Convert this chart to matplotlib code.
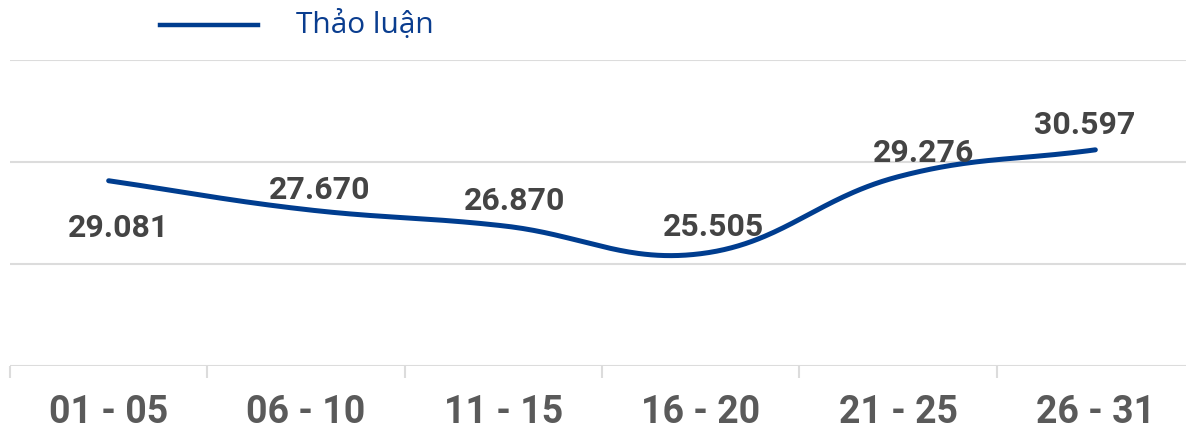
import numpy as np
import matplotlib
matplotlib.use('Agg')
import matplotlib.pyplot as plt

categories = ['01 - 05', '06 - 10', '11 - 15', '16 - 20', '21 - 25', '26 - 31']
values = [29081, 27670, 26870, 25505, 29276, 30597]
labels = ['29.081', '27.670', '26.870', '25.505', '29.276', '30.597']
series_name = 'Thảo luận'

# label offsets in pixels (dx, dy)
offsets = [(10, -47), (14, 20), (11, 25), (13, 27), (26, 24), (-11, 25)]

W, H = 1186, 429
fig = plt.figure(figsize=(W / 100, H / 100), dpi=100)
ax = fig.add_axes([10 / W, (H - 366) / H, 1184 / W, 306 / H])
ax.set_xlim(-0.5, len(categories) - 0.5)
ax.set_ylim(20000, 35000)

line_color = '#003d8f'
grid_color = '#dcdcdc'

for y in [20000, 25000, 30000, 35000]:
    ax.axhline(y, color=grid_color, lw=1.5, zorder=1)

# smooth curve (Chart.js-like tension spline) in display space
x = np.arange(len(values))
pts = ax.transData.transform(np.column_stack([x, values]))
t = 0.4
n = len(pts)
cp_prev = pts.copy()
cp_next = pts.copy()
for i in range(n):
    p0 = pts[max(i - 1, 0)]
    p1 = pts[i]
    p2 = pts[min(i + 1, n - 1)]
    d01 = np.hypot(*(p1 - p0))
    d12 = np.hypot(*(p2 - p1))
    tot = d01 + d12
    if tot == 0:
        continue
    fa = t * d01 / tot
    fb = t * d12 / tot
    cp_prev[i] = p1 - fa * (p2 - p0)
    cp_next[i] = p1 + fb * (p2 - p0)
curve = []
s = np.linspace(0, 1, 60)[:, None]
for i in range(n - 1):
    a, b, c, d = pts[i], cp_next[i], cp_prev[i + 1], pts[i + 1]
    seg = (1 - s) ** 3 * a + 3 * (1 - s) ** 2 * s * b + 3 * (1 - s) * s ** 2 * c + s ** 3 * d
    curve.append(seg)
curve = ax.transData.inverted().transform(np.vstack(curve))
ax.plot(curve[:, 0], curve[:, 1], color=line_color, lw=3.6,
        solid_capstyle='round', zorder=3)

for i, (v, lab) in enumerate(zip(values, labels)):
    dx, dy = offsets[i]
    ax.annotate(lab, (i, v), xytext=(dx, dy), textcoords='offset pixels',
                ha='center', va='center', fontsize=23, fontweight='bold',
                family='Roboto', color='#444444', zorder=4)

ax.set_xticks(x)
ax.set_xticklabels(categories, fontsize=27, fontweight='bold', family='Roboto',
                   color='#5a5a5a')
ax.set_xticks(np.arange(len(categories) + 1) - 0.5, minor=True)
ax.tick_params(axis='x', which='major', length=0, pad=20)
ax.tick_params(axis='x', which='minor', length=8.6, width=1.5, color=grid_color)
ax.set_yticks([])
for sp in ax.spines.values():
    sp.set_visible(False)

# legend
fig.lines.append(plt.Line2D([160 / W, 258 / W], [1 - 25 / H, 1 - 25 / H],
                            color=line_color, lw=3.2, transform=fig.transFigure))
fig.text(296 / W, 1 - 25 / H, series_name, fontsize=21.5, family='Open Sans',
         color='#0a3d8f', va='center', ha='left')

fig.savefig('out.png', dpi=100)
